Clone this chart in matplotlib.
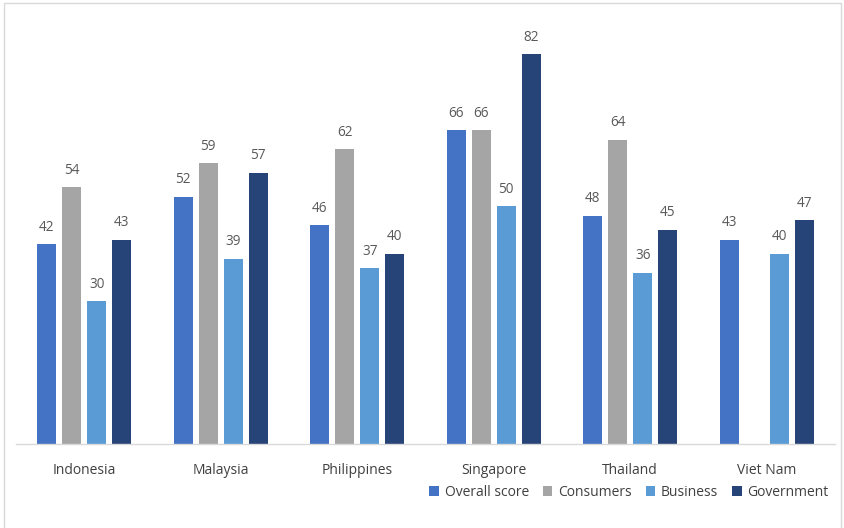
import matplotlib
matplotlib.use("Agg")
import matplotlib.pyplot as plt
from matplotlib.patches import Rectangle
import numpy as np

plt.rcParams['font.family'] = ['Open Sans', 'DejaVu Sans']

countries = ["Indonesia", "Malaysia", "Philippines", "Singapore", "Thailand", "Viet Nam"]
series_names = ["Overall score", "Consumers", "Business", "Government"]
overall = [42, 52, 46, 66, 48, 43]
consumers = [54, 59, 62, 66, 64, None]
business = [30, 39, 37, 50, 36, 40]
government = [43, 57, 40, 82, 45, 47]
colors = ["#4472C4", "#A5A5A5", "#5B9BD5", "#264478"]

W, H = 844, 528
fig = plt.figure(figsize=(W / 100, H / 100), dpi=100)
fig.patch.set_facecolor("white")

# thin frame around the chart area
fig.add_artist(Rectangle((4 / W, -0.01), (841 - 4) / W, (H - 3) / H + 0.01,
                         transform=fig.transFigure, fill=False,
                         edgecolor="#D9D9D9", linewidth=1.0))

ax = fig.add_axes([16 / W, (H - 444) / H, (835 - 16) / W, 428 / H])
x = np.arange(len(countries))
pitch = 0.183
width = 0.142

for i, (vals, name, col) in enumerate(zip([overall, consumers, business, government],
                                           series_names, colors)):
    xs = [xi + (i - 1.5) * pitch for xi, v in zip(x, vals) if v is not None]
    vs = [v for v in vals if v is not None]
    bars = ax.bar(xs, vs, width=width, color=col, label=name, zorder=2)
    for b, v in zip(bars, vs):
        ax.text(b.get_x() + b.get_width() / 2, v + 2.0, str(v),
                ha="center", va="bottom", fontsize=9.8, color="#595959")

ax.set_xlim(-0.5, len(countries) - 0.5)
ax.set_ylim(0, 90)
ax.set_yticks([])
ax.set_xticks(x)
ax.set_xticklabels(countries, fontsize=10, color="#404040")
ax.tick_params(axis="x", length=0, pad=14)
for s in ["top", "right", "left"]:
    ax.spines[s].set_visible(False)
ax.spines["bottom"].set_color("#D9D9D9")
ax.spines["bottom"].set_linewidth(1.0)

fig.legend(loc="center right", bbox_to_anchor=(841 / W, 1 - 492 / H), ncol=4,
           frameon=False, fontsize=10, handlelength=0.7, handleheight=0.7,
           handletextpad=0.4, columnspacing=1.0, labelcolor="#404040")

fig.savefig("out.png", dpi=100)
